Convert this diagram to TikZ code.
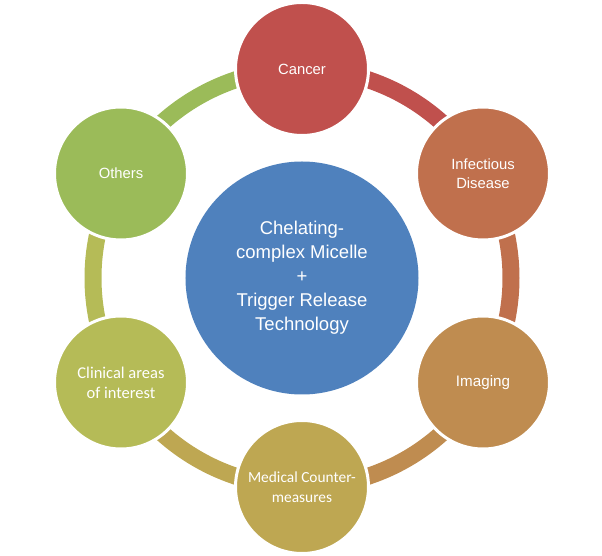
\documentclass[tikz,border=0pt]{standalone}
\usepackage{fontspec}
\setmainfont{Liberation Sans}
\newfontfamily\calibri{Carlito}
\usetikzlibrary{backgrounds}
\definecolor{coreblue}{HTML}{4F81BD}
\definecolor{cancerred}{HTML}{C0504D}
\definecolor{infectorange}{HTML}{C0704D}
\definecolor{imagingbrown}{HTML}{BF8C50}
\definecolor{medicalgold}{HTML}{BEA752}
\definecolor{clinicalolive}{HTML}{B5BB57}
\definecolor{othersgreen}{HTML}{9BBB59}

\begin{document}
\begin{tikzpicture}[x=1pt,y=1pt,
	area/.style={circle,draw=white,line width=3pt,minimum size=133pt,inner sep=0pt,
		text=white,align=center,font=\fontsize{14.8}{19}\selectfont},
	ring/.style={line width=17pt}]
			\useasboundingbox (-302,-278) rectangle (300,278);
			%Centre
			\node[circle,fill=coreblue,minimum size=233pt,inner sep=0pt,text=white,align=center,
				font=\fontsize{18.5}{24}\selectfont] (core) at (0,0)
				{Chelating-\\complex Micelle\\+\\Trigger Release\\Technology};
			%Outer circles
			\node[area,fill=cancerred] (cancer) at (90:209) {Cancer};
			\node[area,fill=infectorange] (infect) at (30:209) {Infectious\\Disease};
			\node[area,fill=imagingbrown,font=\fontsize{15.2}{19}\selectfont] (imaging) at (-30:209) {Imaging};
			\node[area,fill=medicalgold,font=\calibri\fontsize{15.4}{20}\selectfont] (medical) at (-90:209) {Medical Counter-\\measures};
			\node[area,fill=clinicalolive,font=\calibri\fontsize{16.5}{20}\selectfont] (clinical) at (-150:209) {Clinical areas\\of interest};
			\node[area,fill=othersgreen] (others) at (150:209) {Others};
			%Ring
			\begin{scope}[on background layer]
			\draw[ring,cancerred] (cancer.center) arc[start angle=90,end angle=30,radius=209];
			\draw[ring,infectorange] (infect.center) arc[start angle=30,end angle=-30,radius=209];
			\draw[ring,imagingbrown] (imaging.center) arc[start angle=-30,end angle=-90,radius=209];
			\draw[ring,medicalgold] (medical.center) arc[start angle=-90,end angle=-150,radius=209];
			\draw[ring,clinicalolive] (clinical.center) arc[start angle=210,end angle=150,radius=209];
			\draw[ring,othersgreen] (others.center) arc[start angle=150,end angle=90,radius=209];
			\end{scope}
			
			\end{tikzpicture}
\end{document}
